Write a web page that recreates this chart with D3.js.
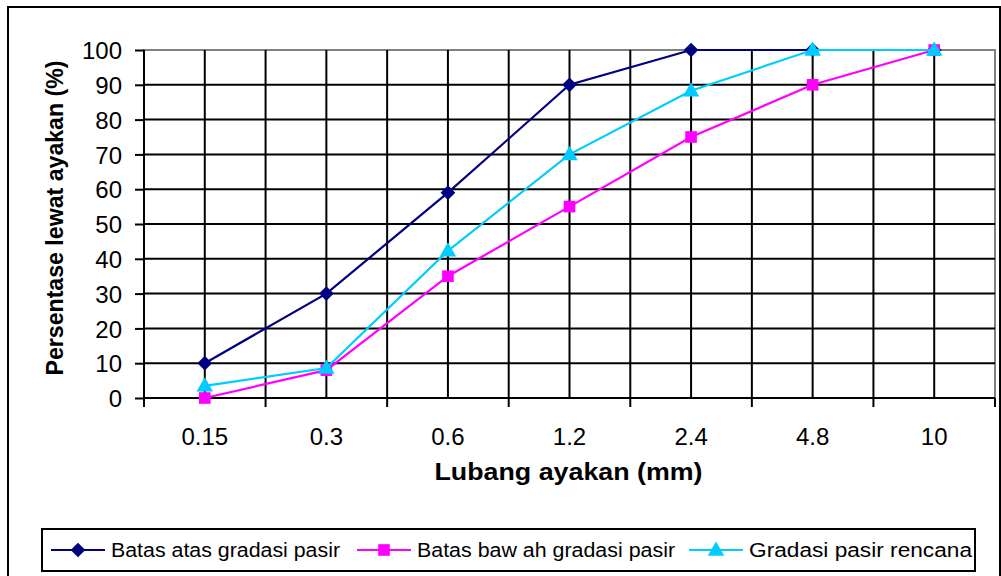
<!DOCTYPE html>
<html>
<head>
<meta charset="utf-8">
<script src="https://cdn.jsdelivr.net/npm/d3@7"></script>
<style>
  html, body { margin: 0; padding: 0; background: #fff; }
  svg { display: block; font-family: "Liberation Sans", Arial, sans-serif; }
</style>
</head>
<body>
<svg id="chart" width="1001" height="576"></svg>
<script>
// ---- data ----
const categories = ["0.15", "0.3", "0.6", "1.2", "2.4", "4.8", "10"];
const batasAtas = [10, 30, 59, 90, 100, 100, 100];
const batasBawah = [0, 8, 35, 55, 75, 90, 100];
const rencana = [3.5, 8.6, 42.3, 70, 88.3, 100, 100];
const yTicks = [0, 10, 20, 30, 40, 50, 60, 70, 80, 90, 100];
const seriesNames = ["Batas atas gradasi pasir", "Batas baw ah gradasi pasir", "Gradasi pasir rencana"];
const seriesColors = ["#000080", "#FF00FF", "#00CCFF"];
const seriesValues = [batasAtas, batasBawah, rencana];

// ---- layout ----
const svg = d3.select("#chart");
const plot = { left: 144, top: 50, right: 995, bottom: 398 };

const x = d3.scaleBand().domain(categories).range([plot.left, plot.right]).padding(0);
const y = d3.scaleLinear().domain([0, 100]).range([plot.bottom, plot.top]);

// marker definitions: diamond = square rotated 45deg
const markers = [
  { type: d3.symbolSquare, size: 108, rot: 45, dy: 0 },
  { type: d3.symbolSquare, size: 135, rot: 0, dy: 0 },
  { type: d3.symbolTriangle, size: 118, rot: 0, dy: 1 }
];

// outer frame
svg.append("rect").attr("x", 8).attr("y", 7).attr("width", 992).attr("height", 580)
  .attr("fill", "#fff").attr("stroke", "#000").attr("stroke-width", 2);

// plot area border (gray)
svg.append("rect").attr("x", plot.left).attr("y", plot.top)
  .attr("width", plot.right - plot.left).attr("height", plot.bottom - plot.top)
  .attr("fill", "#fff").attr("stroke", "#808080").attr("stroke-width", 2);

const grid = svg.append("g");
grid.selectAll("line.h").data(yTicks.filter(d => d > 0 && d < 100)).enter().append("line")
  .attr("x1", plot.left).attr("x2", plot.right)
  .attr("y1", d => y(d)).attr("y2", d => y(d))
  .attr("stroke", "#000").attr("stroke-width", 2);
grid.selectAll("line.vc").data(categories).enter().append("line")
  .attr("x1", d => x(d) + x.bandwidth() / 2).attr("x2", d => x(d) + x.bandwidth() / 2)
  .attr("y1", plot.top).attr("y2", plot.bottom)
  .attr("stroke", "#000").attr("stroke-width", 2);
grid.selectAll("line.vb").data(categories.slice(1)).enter().append("line")
  .attr("x1", d => x(d)).attr("x2", d => x(d))
  .attr("y1", plot.top).attr("y2", plot.bottom + 9)
  .attr("stroke", "#000").attr("stroke-width", 2);

// y axis
const yAxis = svg.append("g").attr("transform", `translate(${plot.left},0)`)
  .call(d3.axisLeft(y).tickValues(yTicks).tickSize(9).tickSizeOuter(0).tickPadding(13));
yAxis.select(".domain").attr("stroke", "#000").attr("stroke-width", 2)
  .attr("d", `M0,${plot.top}V${plot.bottom + 9}`);
yAxis.selectAll(".tick line").attr("stroke", "#000").attr("stroke-width", 2);
yAxis.selectAll(".tick text").attr("font-size", 24).attr("fill", "#000")
  .attr("font-family", "'Liberation Sans', Arial, sans-serif").attr("dy", "0.36em");

// x axis
const xAxis = svg.append("g").attr("transform", `translate(0,${plot.bottom})`)
  .call(d3.axisBottom(x).tickSize(0).tickPadding(30));
xAxis.select(".domain").attr("stroke", "#000").attr("stroke-width", 2)
  .attr("d", `M${plot.left},0H${plot.right}`);
xAxis.selectAll(".tick text").attr("font-size", 24).attr("fill", "#000")
  .attr("font-family", "'Liberation Sans', Arial, sans-serif");
svg.append("line").attr("x1", plot.right).attr("x2", plot.right)
  .attr("y1", plot.bottom).attr("y2", plot.bottom + 9).attr("stroke", "#000").attr("stroke-width", 2);

// series
const line = d3.line().x((d, i) => x(categories[i]) + x.bandwidth() / 2).y(d => y(d));
seriesValues.forEach((vals, s) => {
  const m = markers[s];
  const g = svg.append("g");
  g.append("path").datum(vals).attr("d", line).attr("fill", "none")
    .attr("stroke", seriesColors[s]).attr("stroke-width", 2.2);
  g.selectAll("path.m").data(vals).enter().append("path")
    .attr("d", d3.symbol().type(m.type).size(m.size))
    .attr("transform", (d, i) => `translate(${x(categories[i]) + x.bandwidth() / 2},${y(d) + m.dy}) rotate(${m.rot})`)
    .attr("fill", seriesColors[s]);
});

// axis titles
svg.append("text").attr("x", (plot.left + plot.right) / 2 - 1).attr("y", 480)
  .attr("text-anchor", "middle").attr("font-size", 24).attr("font-weight", "bold")
  .attr("textLength", 268).attr("lengthAdjust", "spacingAndGlyphs")
  .text("Lubang ayakan (mm)");
svg.append("text").attr("transform", "translate(63,218) rotate(-90)")
  .attr("text-anchor", "middle").attr("font-size", 23).attr("font-weight", "bold")
  .attr("textLength", 315).attr("lengthAdjust", "spacingAndGlyphs")
  .text("Persentase lewat ayakan (%)");

// legend
const legend = svg.append("g");
legend.append("rect").attr("x", 42).attr("y", 529).attr("width", 933).attr("height", 42)
  .attr("fill", "#fff").attr("stroke", "#000").attr("stroke-width", 2);
const legX = [51, 357, 689];
const legW = [229, 258, 223];
seriesNames.forEach((name, s) => {
  const lx = legX[s];
  const m = markers[s];
  legend.append("line").attr("x1", lx).attr("x2", lx + 54).attr("y1", 550).attr("y2", 550)
    .attr("stroke", seriesColors[s]).attr("stroke-width", 2.2);
  legend.append("path").attr("d", d3.symbol().type(m.type).size(m.size))
    .attr("transform", `translate(${lx + 27},${550 + m.dy}) rotate(${m.rot})`).attr("fill", seriesColors[s]);
  legend.append("text").attr("x", lx + 60).attr("y", 557).attr("font-size", 20)
    .attr("textLength", legW[s]).attr("lengthAdjust", "spacingAndGlyphs")
    .text(name);
});
</script>
</body>
</html>
